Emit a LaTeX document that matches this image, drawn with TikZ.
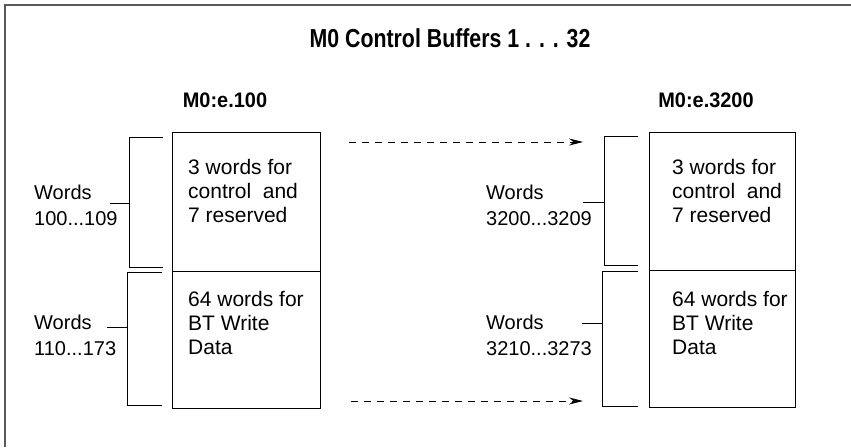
\documentclass[tikz,border=0pt]{standalone}
\usepackage{fontspec}
\setmainfont{Liberation Sans}
\newfontfamily\condbold{Liberation Sans Bold}[FakeStretch=0.82]
\newfontfamily\labbold{Liberation Sans Bold}[FakeStretch=0.95]
\usetikzlibrary{arrows.meta}
\begin{document}
\begin{tikzpicture}[x=1pt,y=-1pt,
  thin line/.style={line width=1pt, draw=black},
  bufbox/.style={draw=black, line width=1pt, rectangle, inner sep=0pt, anchor=north west},
  boxtext/.style={anchor=north west, inner sep=0pt, align=left, font=\fontsize{21}{24}\selectfont},
  wordlabel/.style={anchor=north west, inner sep=0pt, align=left, font=\fontsize{20}{26}\selectfont},
  addrlabel/.style={inner sep=0pt, font=\labbold\fontsize{21}{24}\selectfont},
  flow/.style={line width=0.9pt, dash pattern=on 7pt off 6pt, -{Stealth[length=14pt,width=7pt]}}
]
\useasboundingbox (0,0) rectangle (851,447);
% frame
\draw[line width=1.5pt, draw=black!65] (5,447) -- (5,5) -- (851,5);
% title
\node[inner sep=0pt, font=\condbold\fontsize{26}{30}\selectfont] (title) at (450,38) {M0 Control Buffers 1 . . . 32};
% address labels
\node[addrlabel] (addrL) at (225,100) {M0:e.100};
\node[addrlabel] (addrR) at (706,100) {M0:e.3200};
% left buffer
\node[bufbox, minimum width=148pt, minimum height=139pt] (LT) at (172,132) {};
\node[bufbox, minimum width=148pt, minimum height=137pt] (LB) at (172,271) {};
\node[boxtext] (LTt) at (188,159) {3 words for\\control\ \ and\\7 reserved};
\node[boxtext] (LBt) at (188,291.5) {64 words for\\BT Write\\Data};
% right buffer
\node[bufbox, minimum width=146pt, minimum height=138pt] (RT) at (649,132) {};
\node[bufbox, minimum width=146pt, minimum height=137pt] (RB) at (649,270) {};
\node[boxtext] (RTt) at (672,159) {3 words for\\control\ \ and\\7 reserved};
\node[boxtext] (RBt) at (672,291.5) {64 words for\\BT Write\\Data};
% word labels
\node[wordlabel] (wL1) at (34,184.5) {Words\\100...109};
\node[wordlabel] (wL2) at (34,314.5) {Words\\110...173};
\node[wordlabel] (wR1) at (486,184.5) {Words\\3200...3209};
\node[wordlabel] (wR2) at (486,314.5) {Words\\3210...3273};
% left brackets
\draw[thin line] (163,137) -- (129,137) -- (129,267) -- (163,267);
\draw[thin line] (110,203) -- (129,203);
\draw[thin line] (162,272) -- (127,272) -- (127,405) -- (162,405);
\draw[thin line] (107,327) -- (127,327);
% right brackets
\draw[thin line] (638,136) -- (604,136) -- (604,265) -- (638,265);
\draw[thin line] (583,202) -- (604,202);
\draw[thin line] (638,271) -- (602,271) -- (602,406) -- (638,406);
\draw[thin line] (582,323) -- (602,323);
% dashed arrows
\coordinate (a1s) at (349,142);
\coordinate (a1e) at (583,142);
\coordinate (a2s) at (351,401);
\coordinate (a2e) at (583,401);
\draw[flow] (a1s) -- (a1e);
\draw[flow] (a2s) -- (a2e);
\end{tikzpicture}
\end{document}
